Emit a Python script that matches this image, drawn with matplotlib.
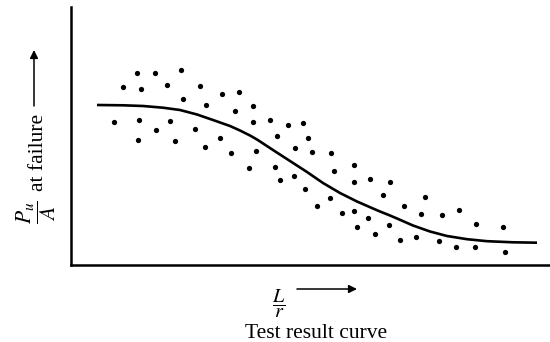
import matplotlib
matplotlib.use("Agg")
import matplotlib.pyplot as plt

plt.rcParams['font.family'] = ['Liberation Serif', 'DejaVu Serif']
plt.rcParams['mathtext.fontset'] = 'stix'

# test points (L/r, Pu/A) in arbitrary chart units
x_dots = [66, 84, 110, 52, 70, 96, 129, 151, 168, 112, 135, 164, 43, 68, 99, 85,
          124, 67, 104, 134, 149, 160, 182, 182, 199, 217, 232, 206, 237, 185, 224,
          241, 260, 178, 204, 263, 283, 209, 223, 283, 299, 319, 234, 259, 312, 246,
          271, 283, 297, 286, 304, 318, 354, 333, 350, 371, 388, 405, 432, 329, 345,
          368, 385, 404, 434]
y_dots = [192, 192, 195, 178, 176, 180, 179, 171, 173, 166, 160, 154, 143, 145, 144, 135,
          136, 125, 124, 118, 127, 112, 159, 143, 145, 140, 142, 129, 127, 114, 117,
          113, 112, 97, 98, 94, 100, 85, 89, 83, 86, 83, 76, 67, 70, 59,
          52, 54, 47, 38, 31, 40, 68, 59, 51, 50, 55, 41, 38, 25, 28,
          24, 18, 18, 13]

# fitted test result curve
x_curve = [26, 52, 72, 92, 109, 126, 142, 159, 169, 179, 186, 202, 219, 236, 252,
           269, 286, 302, 309, 319, 326, 342, 359, 376, 396, 416, 442, 466]
y_curve = [160, 159.7, 159, 157.3, 155, 150.5, 145, 139, 134.5, 129.5, 125.5, 115, 104, 93, 82,
           72, 63.5, 56.5, 53.5, 49.5, 46.5, 39.5, 33.5, 29, 25.8, 23.8, 22.7, 22.3]

W, H = 550, 342
fig = plt.figure(figsize=(W / 100, H / 100), dpi=100)
ax = fig.add_axes([71 / W, 77 / H, 478 / W, 258 / H])
ax.plot(x_dots, y_dots, 'o', color='black', markersize=3.8, markeredgewidth=0)
ax.plot(x_curve, y_curve, color='black', lw=1.9, solid_capstyle='butt', solid_joinstyle='round')
ax.set_xlim(0, 478)
ax.set_ylim(0, 258)
ax.set_xticks([])
ax.set_yticks([])
for s in ['top', 'right']:
    ax.spines[s].set_visible(False)
for s in ['left', 'bottom']:
    ax.spines[s].set_linewidth(1.8)


def px(x, y):
    return x / W, 1 - y / H


fs = 15.5
arrow = dict(arrowstyle='-|>', lw=1.1, color='black', mutation_scale=12, shrinkA=0, shrinkB=0)

# y label
fig.text(*px(36, 212), r'$\dfrac{P_u}{A}$', rotation=90, fontsize=fs,
         ha='center', va='center', rotation_mode='anchor')
fig.text(*px(43, 152), 'at failure', rotation=90, fontsize=fs,
         ha='center', va='baseline', rotation_mode='anchor')
fig.add_artist(matplotlib.patches.FancyArrowPatch(px(34, 106), px(34, 50),
                                                  transform=fig.transFigure, **arrow))

# x label
fig.text(*px(279, 304), r'$\dfrac{L}{r}$', fontsize=fs - 1, ha='center', va='center')
fig.add_artist(matplotlib.patches.FancyArrowPatch(px(297, 289), px(357, 289),
                                                  transform=fig.transFigure, **arrow))
fig.text(*px(316, 338), 'Test result curve', fontsize=fs, ha='center', va='baseline')

fig.savefig('out.png', dpi=100)
